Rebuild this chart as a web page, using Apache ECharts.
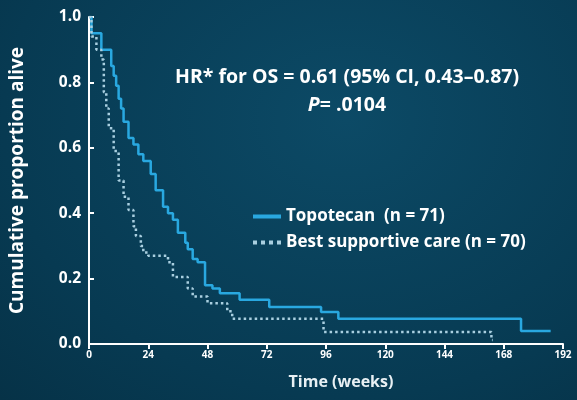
<!DOCTYPE html>
<html>
<head>
<meta charset="utf-8">
<script src="https://cdn.jsdelivr.net/npm/echarts@6/dist/echarts.min.js"></script>
<style>
html,body{margin:0;padding:0;}
#main{width:577px;height:400px;background:radial-gradient(ellipse at 60% 30%,#0c4a66 0%,#073a52 70%,#063247 100%);}
</style>
</head>
<body>
<div id="main"></div>
<script>
var xTicks = [0, 24, 48, 72, 96, 120, 144, 168, 192];
var topoTime = [0, 1, 5, 9, 10, 11, 12, 13, 14, 16, 18, 20, 22, 25, 27, 30, 32, 34, 36, 39, 40, 42, 44, 47, 50, 53, 61, 73, 94, 101, 175, 187];
var topoSurv = [1.0, 0.95, 0.90, 0.85, 0.82, 0.79, 0.75, 0.72, 0.68, 0.63, 0.61, 0.58, 0.56, 0.52, 0.47, 0.42, 0.40, 0.38, 0.34, 0.31, 0.29, 0.26, 0.25, 0.18, 0.17, 0.155, 0.135, 0.113, 0.098, 0.077, 0.04, 0.04];
var bscTime = [0, 1, 3, 5, 6, 7, 8, 10, 12, 14, 16, 18, 19, 21, 22, 24, 32, 34, 40, 42, 48, 56, 58, 95, 163, 163.5];
var bscSurv = [1.0, 0.94, 0.90, 0.87, 0.77, 0.72, 0.66, 0.59, 0.50, 0.45, 0.41, 0.36, 0.33, 0.30, 0.28, 0.27, 0.25, 0.205, 0.17, 0.145, 0.125, 0.10, 0.077, 0.037, 0.012, 0.012];

function pairs(t, s) { return t.map(function (v, i) { return [v, s[i]]; }); }

var chart = echarts.init(document.getElementById('main'));
var white = '#ffffff';
var font = 'Open Sans';
chart.setOption({
  animation: false,
  title: {
    text: 'HR* for OS = 0.61 (95% CI, 0.43\u20130.87)\n{i|P}{n|= .0104}',
    left: 342, top: 58, textAlign: 'center',
    textStyle: {
      color: white, fontSize: 19.5, fontWeight: 'bold', fontFamily: font, lineHeight: 28,
      rich: {
        i: {color: white, fontSize: 19.5, fontWeight: 'bold', fontStyle: 'italic', fontFamily: font},
        n: {color: white, fontSize: 19.5, fontWeight: 'bold', fontFamily: font}
      }
    }
  },
  legend: {
    orient: 'vertical', left: 248, top: 203, itemGap: 9, itemWidth: 28, itemHeight: 16,
    textStyle: {color: white, fontSize: 17, fontWeight: 'bold', fontFamily: font},
    data: [{name: 'Topotecan  (n = 71)', icon: 'path://M0,6H28V10H0Z', itemStyle: {color: '#29a8e0'}},
           {name: 'Best supportive care (n = 70)',
            icon: 'path://M0,6H4V10H0ZM8,6H12V10H8ZM16,6H20V10H16ZM24,6H28V10H24Z', itemStyle: {color: '#a9cfe0'}}]
  },
  grid: {left: 88, right: 14, top: 17, bottom: 56},
  xAxis: {
    type: 'value', min: 0, max: 192, interval: 24,
    name: 'Time (weeks)', nameLocation: 'middle', nameGap: 30,
    nameTextStyle: {color: '#e8f0f4', fontSize: 16, fontWeight: 'bold', fontFamily: font, padding: [0, 0, 0, 30]},
    axisLine: {lineStyle: {color: white, width: 2}},
    axisTick: {lineStyle: {color: white, width: 2}, length: 5},
    axisLabel: {color: white, fontSize: 10, fontWeight: 'bold', fontFamily: font, margin: 6},
    splitLine: {show: false}
  },
  yAxis: {
    type: 'value', min: 0, max: 1, interval: 0.2,
    name: 'Cumulative proportion alive', nameLocation: 'middle', nameGap: 62,
    nameTextStyle: {color: white, fontSize: 19, fontWeight: 'bold', fontFamily: font},
    axisLine: {show: true, lineStyle: {color: white, width: 2}},
    axisTick: {show: true, inside: true, lineStyle: {color: white, width: 2}, length: 5},
    axisLabel: {color: white, fontSize: 15.5, fontWeight: 'bold', fontFamily: font, margin: 8,
      formatter: function (v) { return v.toFixed(1); }},
    splitLine: {show: false}
  },
  series: [
    {name: 'Topotecan  (n = 71)', type: 'line', step: 'end', symbol: 'none',
     lineStyle: {color: '#29a8e0', width: 2.5},
     data: pairs(topoTime, topoSurv)},
    {name: 'Best supportive care (n = 70)', type: 'line', step: 'end', symbol: 'none',
     lineStyle: {color: '#a9cfe0', width: 2.5, type: [2.5, 3]},
     data: pairs(bscTime, bscSurv)}
  ]
});
</script>
</body>
</html>
